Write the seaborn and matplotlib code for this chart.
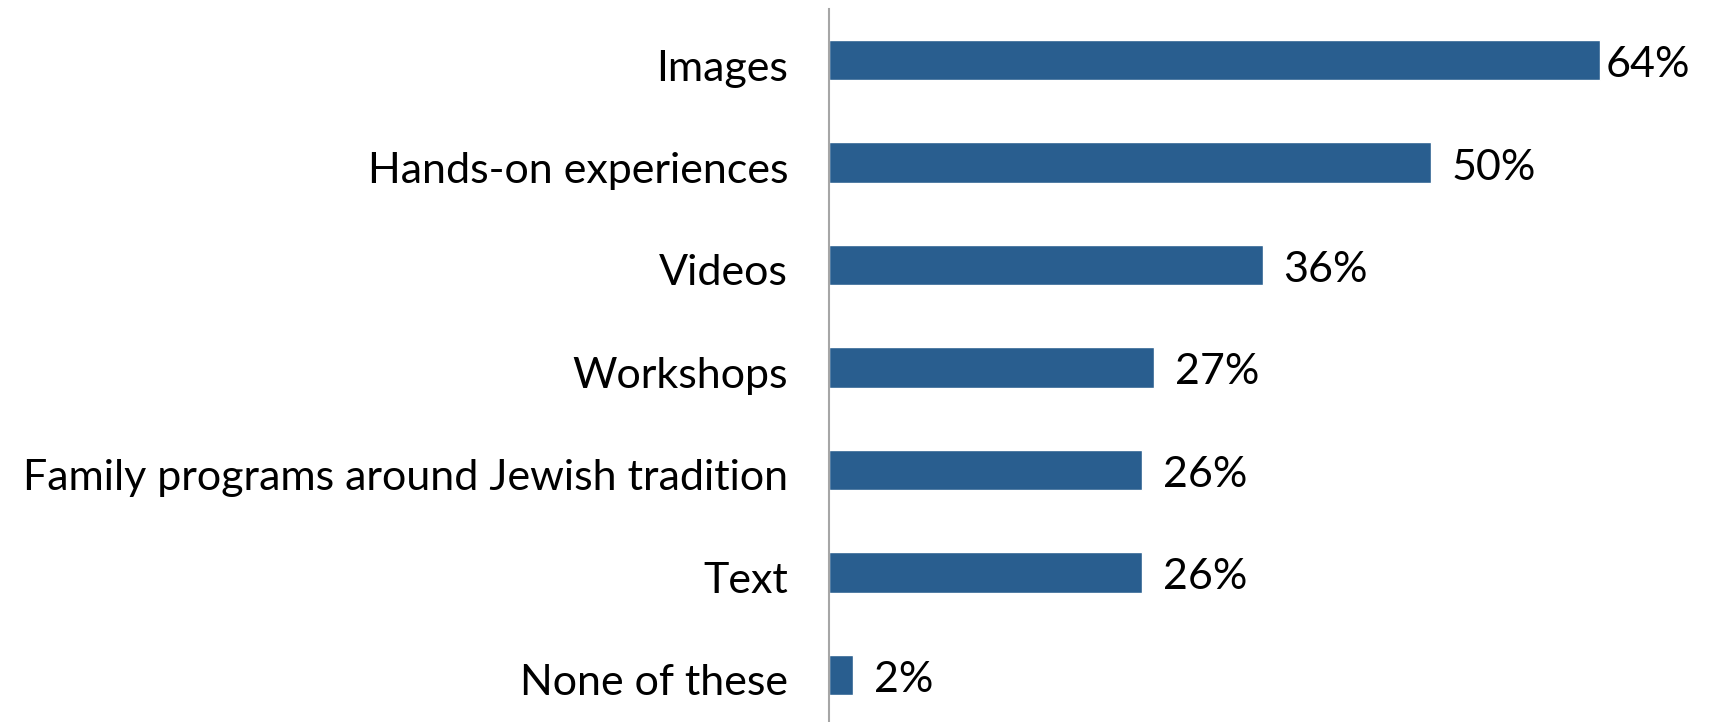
import matplotlib
matplotlib.use("Agg")
import matplotlib.pyplot as plt
import matplotlib.transforms as mtransforms
import seaborn as sns
import pandas as pd

categories = ["Images", "Hands-on experiences", "Videos", "Workshops",
              "Family programs around Jewish tradition", "Text", "None of these"]
values = [64, 50, 36, 27, 26, 26, 2]
value_labels = ["64%", "50%", "36%", "27%", "26%", "26%", "2%"]

df = pd.DataFrame({"category": categories, "value": values})

sns.set_theme(style="white")
plt.rcParams["font.family"] = ["Lato", "DejaVu Sans"]

fig = plt.figure(figsize=(17.16, 7.22), dpi=100)
ax = fig.add_axes([829 / 1716, 1 - 726 / 722, 867 / 1716, 717 / 722])

sns.barplot(data=df, y="category", x="value", color="#295E8F", saturation=1,
            width=0.395, ax=ax, orient="h")

ax.set_xlim(0, 72)
ax.set_ylim(6.5, -0.5)
ax.set_xlabel("")
ax.set_ylabel("")
ax.set_xticks([])
for s in ["top", "right", "bottom"]:
    ax.spines[s].set_visible(False)
ax.spines["left"].set_color("#A6A6A6")
ax.spines["left"].set_linewidth(1.5)
ax.tick_params(axis="y", length=0, pad=29.5, labelsize=31, labelcolor="black")

shift = mtransforms.ScaledTranslation(0, -3.5 / 72, fig.dpi_scale_trans)
for t in ax.get_yticklabels():
    t.set_transform(t.get_transform() + shift)

offsets = [4, 15, 15, 15, 15, 15, 15]
for i, (v, lab) in enumerate(zip(values, value_labels)):
    ax.annotate(lab, xy=(v, i), xytext=(offsets[i], -3.5), textcoords="offset points",
                ha="left", va="center", fontsize=31, color="black",
                annotation_clip=False)

fig.savefig("out.png", dpi=100)
